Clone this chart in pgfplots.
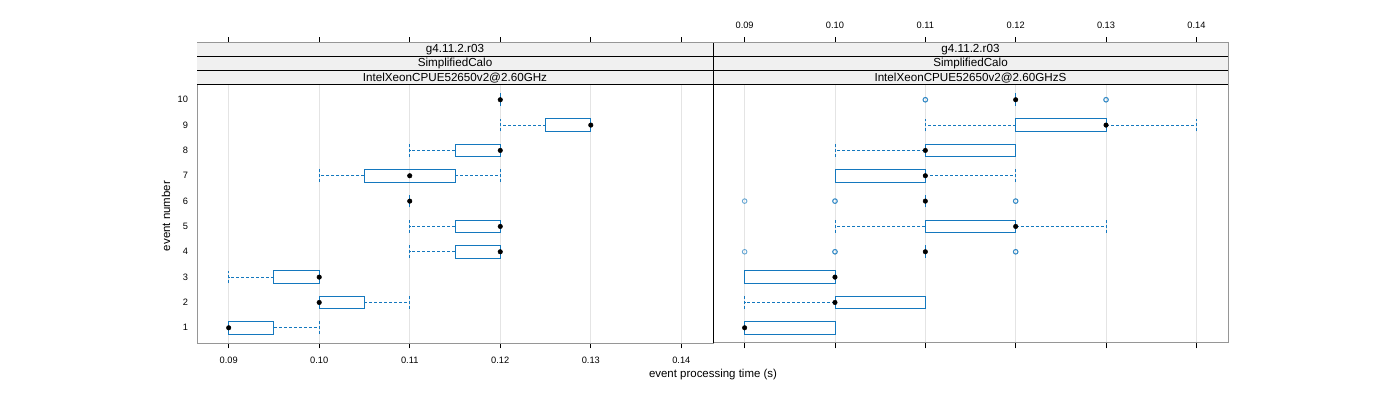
\documentclass[border=0pt]{standalone}
\usepackage{fontspec}
\setmainfont{Liberation Sans}
\usepackage{pgfplots}
\pgfplotsset{compat=1.18}
\usepgfplotslibrary{statistics}
\definecolor{bwcol}{RGB}{20,120,190}
\definecolor{framecol}{RGB}{150,150,150}
\definecolor{stripfill}{RGB}{240,240,240}
\definecolor{gridcol}{RGB}{228,228,228}
% box: position, lower whisker, lower quartile, median, upper quartile, upper whisker
\newcommand\bx[6]{\addplot[bwcol, boxplot prepared={draw position=#1, lower whisker=#2, lower quartile=#3, median=#4, upper quartile=#5, upper whisker=#6}] coordinates {};}
\pgfplotsset{
 panel/.style={
  scale only axis, height=300bp, ymin=0.4, ymax=12.24, xmin=0.0865, xmax=0.1435,
  axis line style={framecol, line width=1bp},
  xtick={0.09,0.1,0.11,0.12,0.13,0.14},
  xticklabels={0.09,0.10,0.11,0.12,0.13,0.14},
  xtick pos=both, tick align=outside, major tick length=5.5bp,
  xtick style={black, line width=0.8bp},
  ytick style={draw=none},
  /pgf/number format/assume math mode=true,
  xmajorgrids, grid style={gridcol, line width=0.8bp},
  ticklabel style={font=\fontsize{9.3}{10}\selectfont},
  boxplot/draw direction=x,
  boxplot/box extend=0.5,
  boxplot/whisker extend=0.5,
  boxplot/every box/.style={draw=bwcol, line width=0.9bp},
  boxplot/every whisker/.style={draw=bwcol, dash pattern=on 3bp off 2bp, line width=0.9bp},
  boxplot/every median/.style={draw=none},
 },
 medpt/.style={only marks, mark=*, mark size=2.3bp, black},
 outl/.style={only marks, mark=o, mark size=2.3bp, bwcol, line width=0.9bp, mark options={solid}},
 flatbox/.style={draw=bwcol, line width=1.5bp, mark=none, solid, forget plot},
}
\newcommand\strips[1]{%
  \fill[stripfill] (axis cs:0.0865,10.6) rectangle (axis cs:0.1435,12.24);
  \draw[black, line width=1bp] (axis cs:0.0865,10.6) -- (axis cs:0.1435,10.6);
  \draw[black, line width=1bp] (axis cs:0.0865,11.147) -- (axis cs:0.1435,11.147);
  \draw[black, line width=1bp] (axis cs:0.0865,11.693) -- (axis cs:0.1435,11.693);
  \draw[framecol, line width=1bp] (axis cs:0.0865,12.24) -- (axis cs:0.1435,12.24);
  \node[font=\fontsize{11.7}{12}\selectfont, inner sep=0pt] at (axis cs:0.115,11.966) {g4.11.2.r03};
  \node[font=\fontsize{11.7}{12}\selectfont, inner sep=0pt] at (axis cs:0.115,11.42) {SimplifiedCalo};
  \node[font=\fontsize{11.7}{12}\selectfont, inner sep=0pt] at (axis cs:0.115,10.873) {#1};
}
\begin{document}
\begin{tikzpicture}
\useasboundingbox (0,0) rectangle (1400bp,400bp);
% ---------- left panel ----------
\begin{axis}[panel, name=left, at={(197bp,57bp)}, anchor=south west, width=516bp,
  xticklabel pos=lower, xticklabel style={yshift=-5bp}, ytick={1,2,3,4,5,6,7,8,9,10}]
\bx{1}{0.09}{0.09}{0.09}{0.095}{0.10}
\bx{2}{0.10}{0.10}{0.10}{0.105}{0.11}
\bx{3}{0.09}{0.095}{0.10}{0.10}{0.10}
\bx{4}{0.11}{0.115}{0.12}{0.12}{0.12}
\bx{5}{0.11}{0.115}{0.12}{0.12}{0.12}
\bx{7}{0.10}{0.105}{0.11}{0.115}{0.12}
\bx{8}{0.11}{0.115}{0.12}{0.12}{0.12}
\bx{9}{0.12}{0.125}{0.13}{0.13}{0.13}
% collapsed boxes (all five values equal) drawn as short vertical segments
\addplot[flatbox] coordinates {(0.11,5.75) (0.11,6.25)};
\addplot[flatbox] coordinates {(0.12,9.75) (0.12,10.25)};
\addplot[medpt] coordinates {(0.09,1) (0.10,2) (0.10,3) (0.12,4) (0.12,5) (0.11,6) (0.11,7) (0.12,8) (0.13,9) (0.12,10)};
\strips{IntelXeonCPUE52650v2@2.60GHz}
\draw[black, line width=1bp] (rel axis cs:1,0) -- (rel axis cs:1,1);
\end{axis}
% ---------- right panel ----------
\begin{axis}[panel, name=right, at={(713bp,57bp)}, anchor=south west, width=515bp,
  xticklabel pos=upper, xticklabel style={yshift=5bp}, ytick=\empty]
\bx{1}{0.09}{0.09}{0.09}{0.10}{0.10}
\bx{2}{0.09}{0.10}{0.10}{0.11}{0.11}
\bx{3}{0.09}{0.09}{0.10}{0.10}{0.10}
\bx{5}{0.10}{0.11}{0.12}{0.12}{0.13}
\bx{7}{0.10}{0.10}{0.11}{0.11}{0.12}
\bx{8}{0.10}{0.11}{0.11}{0.12}{0.12}
\bx{9}{0.11}{0.12}{0.13}{0.13}{0.14}
\addplot[flatbox] coordinates {(0.11,3.75) (0.11,4.25)};
\addplot[flatbox] coordinates {(0.11,5.75) (0.11,6.25)};
\addplot[flatbox] coordinates {(0.12,9.75) (0.12,10.25)};
\addplot[outl, opacity=0.65] coordinates {(0.09,4) (0.10,4) (0.10,4) (0.12,4) (0.12,4) (0.09,6) (0.10,6) (0.10,6) (0.12,6) (0.12,6) (0.11,10) (0.11,10) (0.13,10) (0.13,10)};
\addplot[medpt] coordinates {(0.09,1) (0.10,2) (0.10,3) (0.11,4) (0.12,5) (0.11,6) (0.11,7) (0.11,8) (0.13,9) (0.12,10)};
\strips{IntelXeonCPUE52650v2@2.60GHzS}
\draw[black, line width=1bp] (rel axis cs:0,0) -- (rel axis cs:0,1);
\end{axis}
\node[font=\fontsize{11.5}{12}\selectfont, rotate=90] at (166bp,184bp) {event number};
\node[font=\fontsize{11.5}{12}\selectfont] at (713bp,25bp) {event processing time (s)};
\end{tikzpicture}
\end{document}
